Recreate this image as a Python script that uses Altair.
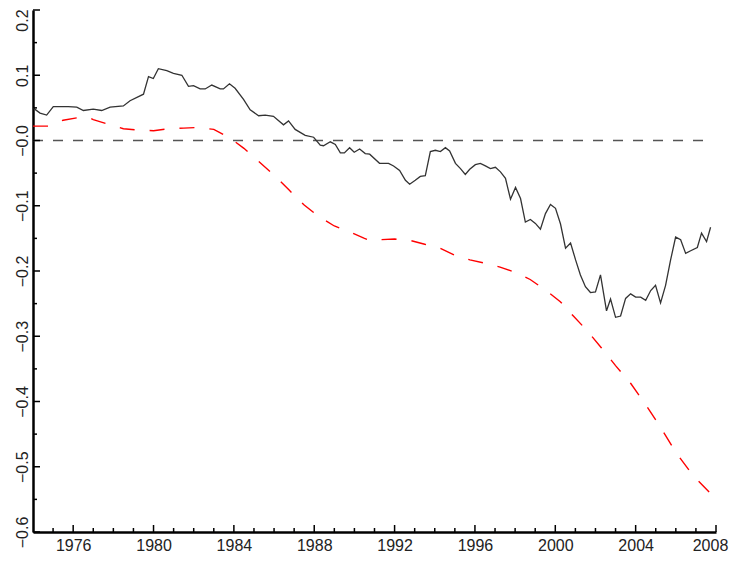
import altair as alt
import pandas as pd

black_years = [1974.00, 1974.35, 1974.68, 1975.01, 1975.75, 1976.18, 1976.51, 1977.00, 1977.42, 1977.84,
               1978.50, 1978.83, 1979.50, 1979.75, 1979.99, 1980.24, 1980.66, 1980.99, 1981.41, 1981.74,
               1981.99, 1982.32, 1982.57, 1982.90, 1983.32, 1983.48, 1983.78, 1984.06, 1984.48, 1984.81,
               1985.23, 1985.56, 1985.97, 1986.47, 1986.72, 1987.05, 1987.55, 1987.97, 1988.30, 1988.46,
               1988.80, 1989.05, 1989.30, 1989.50, 1989.76, 1989.99, 1990.26, 1990.54, 1990.76, 1991.25,
               1991.70, 1991.95, 1992.25, 1992.54, 1992.75, 1993.03, 1993.28, 1993.53, 1993.78, 1994.03,
               1994.28, 1994.53, 1994.74, 1995.03, 1995.28, 1995.52, 1995.74, 1996.02, 1996.27, 1996.52,
               1996.77, 1997.02, 1997.27, 1997.52, 1997.77, 1998.02, 1998.27, 1998.51, 1998.76, 1999.01,
               1999.26, 1999.51, 1999.76, 2000.01, 2000.26, 2000.51, 2000.76, 2001.01, 2001.25, 2001.50,
               2001.75, 2002.00, 2002.25, 2002.55, 2002.75, 2003.00, 2003.25, 2003.50, 2003.75, 2004.00,
               2004.25, 2004.50, 2004.75, 2004.99, 2005.24, 2005.49, 2005.74, 2005.99, 2006.24, 2006.49,
               2006.74, 2007.07, 2007.28, 2007.53, 2007.73]
black_values = [0.050, 0.042, 0.039, 0.052, 0.052, 0.051, 0.046, 0.048, 0.046, 0.051,
                0.053, 0.061, 0.071, 0.098, 0.095, 0.110, 0.107, 0.103, 0.100, 0.083,
                0.084, 0.079, 0.079, 0.085, 0.079, 0.079, 0.087, 0.080, 0.063, 0.047,
                0.038, 0.039, 0.037, 0.024, 0.030, 0.017, 0.008, 0.005, -0.007, -0.008,
                -0.002, -0.006, -0.019, -0.019, -0.011, -0.018, -0.013, -0.020, -0.021, -0.035,
                -0.035, -0.039, -0.046, -0.061, -0.067, -0.061, -0.055, -0.054, -0.017, -0.015,
                -0.017, -0.011, -0.016, -0.035, -0.043, -0.052, -0.044, -0.037, -0.035, -0.039,
                -0.043, -0.041, -0.048, -0.058, -0.090, -0.072, -0.089, -0.125, -0.121, -0.127,
                -0.136, -0.112, -0.098, -0.104, -0.128, -0.165, -0.157, -0.183, -0.206, -0.224,
                -0.233, -0.232, -0.206, -0.261, -0.243, -0.271, -0.269, -0.242, -0.235, -0.240,
                -0.240, -0.245, -0.230, -0.222, -0.249, -0.222, -0.183, -0.148, -0.152, -0.173,
                -0.169, -0.164, -0.142, -0.155, -0.133]

red_years = [1974.00, 1974.75, 1975.50, 1976.25, 1976.75, 1977.00, 1977.75, 1978.50, 1979.25, 1980.00,
             1980.75, 1981.50, 1982.25, 1983.00, 1983.75, 1984.50, 1985.20, 1986.00, 1986.75, 1987.50,
             1988.25, 1989.00, 1989.75, 1990.50, 1990.85, 1991.25, 1992.00, 1992.75, 1993.50, 1994.25,
             1995.00, 1995.75, 1996.50, 1997.25, 1998.00, 1998.75, 1999.50, 2000.25, 2000.90, 2001.60,
             2002.30, 2003.00, 2003.75, 2004.50, 2005.25, 2006.00, 2006.75, 2007.00, 2007.73]
red_values = [0.022, 0.022, 0.031, 0.035, 0.036, 0.032, 0.025, 0.018, 0.016, 0.015,
              0.018, 0.019, 0.020, 0.017, 0.005, -0.012, -0.031, -0.053, -0.076, -0.099,
              -0.117, -0.131, -0.140, -0.150, -0.154, -0.152, -0.151, -0.153, -0.159, -0.165,
              -0.176, -0.183, -0.188, -0.194, -0.202, -0.213, -0.229, -0.247, -0.269, -0.292,
              -0.318, -0.345, -0.372, -0.405, -0.440, -0.478, -0.509, -0.518, -0.541]

zero_line_start = [1974.0]
zero_line_end = [2007.75]
zero_line_value = [0.0]

x_major_ticks = [1976, 1980, 1984, 1988, 1992, 1996, 2000, 2004, 2008]
x_minor_ticks = [y for y in range(1975, 2008) if y not in x_major_ticks]
y_major_ticks = [-0.6, -0.5, -0.4, -0.3, -0.2, -0.1, 0.0, 0.1, 0.2]
y_minor_ticks = [-0.55, -0.45, -0.35, -0.25, -0.15, -0.05, 0.05, 0.15]

W, H = 683, 522
FONT = "Liberation Sans"

xscale = alt.Scale(domain=[1974, 2008], nice=False, zero=False)
yscale = alt.Scale(domain=[-0.6, 0.2], nice=False, zero=False)

black_df = pd.DataFrame({"year": black_years, "value": black_values})
red_df = pd.DataFrame({"year": red_years, "value": red_values})
zero_df = pd.DataFrame({"year": zero_line_start, "year2": zero_line_end, "value": zero_line_value})

xaxis = alt.Axis(values=x_major_ticks, format="d", title=None, grid=False, ticks=False, tickSize=0,
                 labelFont=FONT, labelFontSize=16, labelColor="#222", labelPadding=5,
                 labelBaseline="top", labelAlign="center", labelFlush=False,
                 labelOffset={"condition": {"test": "datum.value > 2007", "value": -6}, "value": 0},
                 domainColor="black", domainWidth=2.5, labelOverlap=False)
yaxis = alt.Axis(values=y_major_ticks,
                 labelExpr="datum.value > 0.001 ? format(datum.value, '.1f') : '\u2212' + format(abs(datum.value), '.1f')",
                 title=None, grid=False, ticks=False, tickSize=0,
                 labelFont=FONT, labelFontSize=16, labelColor="#222", labelPadding=6,
                 labelAngle=270, labelAlign="center", labelBaseline="alphabetic", labelFlush=False,
                 labelOffset={"condition": {"test": "datum.value > 0.15", "value": 10}, "value": 0},
                 domainColor="black", domainWidth=2.5, labelOverlap=False)

X = alt.X("year:Q", scale=xscale, axis=xaxis)
Y = alt.Y("value:Q", scale=yscale, axis=yaxis)

red = alt.Chart(red_df).mark_line(color="#ff0000", strokeWidth=1.4, strokeDash=[15, 15]).encode(x=X, y=Y)

zero = alt.Chart(zero_df).mark_rule(color="#555555", strokeWidth=1.3, strokeDash=[10, 10]).encode(
    x=X, x2="year2:Q", y=Y)

black = alt.Chart(black_df).mark_line(color="#333333", strokeWidth=1.3).encode(x=X, y=Y)


def xticks(vals, length):
    return alt.Chart(pd.DataFrame({"year": vals})).mark_rule(color="black", strokeWidth=1.5).encode(
        x=X, y=alt.value(H), y2=alt.value(H - length))


def yticks(vals, length):
    return alt.Chart(pd.DataFrame({"value": vals})).mark_rule(color="black", strokeWidth=1.5).encode(
        y=Y, x=alt.value(0), x2=alt.value(length))


chart = alt.layer(
    red, zero, black,
    xticks(x_major_ticks, 7), xticks(x_minor_ticks, 4),
    yticks(y_major_ticks, 7), yticks(y_minor_ticks, 4),
).properties(
    width=W, height=H,
    background="white",
    autosize=alt.AutoSizeParams(type="none"),
    padding={"left": 25, "top": 2, "right": 13, "bottom": 22},
).configure_view(stroke=None)

chart.save("out.html", embed_options={"renderer": "svg", "actions": False})
